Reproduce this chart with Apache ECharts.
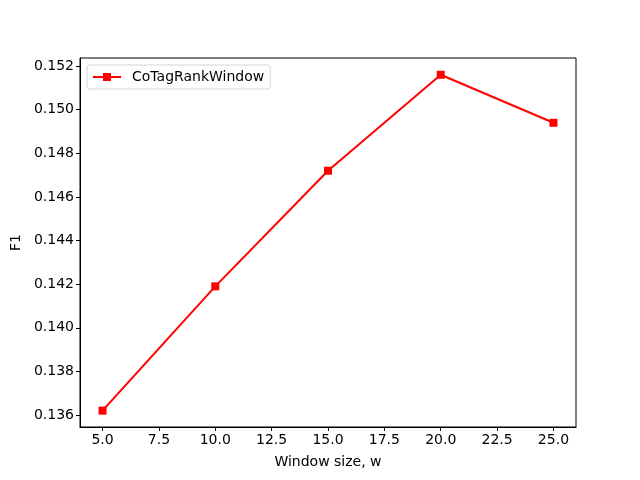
<!DOCTYPE html>
<html>
<head>
<meta charset="utf-8">
<script src="https://cdn.jsdelivr.net/npm/echarts@6/dist/echarts.min.js"></script>
<style>html,body{margin:0;padding:0;background:#fff}#c{width:640px;height:480px}</style>
</head>
<body>
<div id="c"></div>
<script>
const windowSizes = [5, 10, 15, 20, 25];
const f1Values = [0.1362, 0.1419, 0.1472, 0.1516, 0.1494];
const xTicks = [5, 7.5, 10, 12.5, 15, 17.5, 20, 22.5, 25];
const yTicks = [0.136, 0.138, 0.140, 0.142, 0.144, 0.146, 0.148, 0.150, 0.152];
const seriesName = 'CoTagRankWindow';

const font = 'DejaVu Sans';
const chart = echarts.init(document.getElementById('c'), null, {renderer: 'canvas'});
chart.setOption({
  animation: false,
  backgroundColor: '#fff',
  textStyle: {fontFamily: font},
  grid: {left: 80, right: 64, top: 58, bottom: 53, show: true, borderColor: '#000', borderWidth: 1, containLabel: false},
  legend: {
    show: true, left: 87, top: 65, orient: 'vertical',
    data: [seriesName],
    itemWidth: 28, itemHeight: 10, itemGap: 8,
    padding: [5, 6, 5, 5],
    borderColor: '#d6d6d6', borderWidth: 1, borderRadius: 3,
    backgroundColor: 'rgba(255,255,255,0.8)',
    textStyle: {fontFamily: font, fontSize: 14, color: '#000', padding: [0, 0, 0, 6]}
  },
  xAxis: {
    type: 'value', min: 4, max: 26,
    name: 'Window size, w', nameLocation: 'middle', nameGap: 28,
    nameTextStyle: {fontFamily: font, fontSize: 14, color: '#000'},
    axisLine: {show: true, onZero: false, lineStyle: {color: '#000', width: 1}},
    axisTick: {show: true, inside: false, length: 4, lineStyle: {color: '#000'}, customValues: xTicks},
    axisLabel: {show: true, color: '#000', fontSize: 14, fontFamily: font, margin: 6, customValues: xTicks,
      formatter: v => Number(v).toFixed(1)},
    splitLine: {show: false}
  },
  yAxis: {
    type: 'value', min: 0.13545, max: 0.15237,
    name: 'F1', nameLocation: 'middle', nameGap: 51, nameRotate: 90,
    nameTextStyle: {fontFamily: font, fontSize: 14, color: '#000'},
    axisLine: {show: true, onZero: false, lineStyle: {color: '#000', width: 1}},
    axisTick: {show: true, inside: false, length: 4, lineStyle: {color: '#000'}, customValues: yTicks},
    axisLabel: {show: true, color: '#000', fontSize: 14, fontFamily: font, margin: 6, customValues: yTicks,
      formatter: v => Number(v).toFixed(3)},
    splitLine: {show: false}
  },
  series: [{
    name: seriesName,
    type: 'line',
    data: windowSizes.map((x, i) => [x, f1Values[i]]),
    symbol: 'rect', symbolSize: 8,
    itemStyle: {color: '#ff0000'},
    lineStyle: {color: '#ff0000', width: 2},
    showSymbol: true
  }]
});
</script>
</body>
</html>
